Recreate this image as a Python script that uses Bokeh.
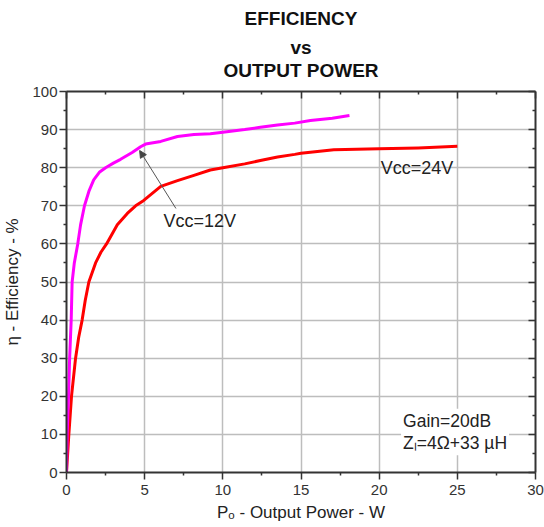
from bokeh.plotting import figure
from bokeh.models import (LinearAxis, Title, Label, Arrow, NormalHead, Range1d,
                          FixedTicker, CustomLabelingPolicy)
from bokeh.embed import file_html
from bokeh.resources import INLINE

# Vcc = 12 V curve
p_out_12 = [0.0, 0.04, 0.13, 0.2, 0.3, 0.36, 0.5, 0.72, 0.9, 1.15, 1.45, 1.74, 2.1, 2.5,
            3.0, 3.46, 4.2, 4.74, 5.06, 6.03, 7.1, 8.15, 9.2, 10.0, 11.4, 12.4, 13.5,
            14.6, 15.6, 17.0, 18.1]
eff_12 = [0.0, 10.0, 20.0, 30.0, 40.0, 50.0, 55.0, 60.0, 65.0, 70.0, 74.0, 76.8, 78.8, 80.0,
          81.2, 82.2, 84.0, 85.5, 86.2, 86.9, 88.2, 88.7, 88.9, 89.3, 90.0, 90.6, 91.2,
          91.7, 92.4, 93.0, 93.7]

# Vcc = 24 V curve
p_out_24 = [0.0, 0.15, 0.32, 0.58, 0.78, 1.0, 1.2, 1.43, 1.86, 2.2, 2.56, 3.25, 3.89, 4.42,
            4.94, 6.03, 7.1, 8.15, 9.2, 10.0, 11.4, 12.4, 13.5, 14.6, 15.0, 17.1, 20.0,
            22.5, 25.0]
eff_24 = [0.0, 10.0, 20.0, 30.0, 35.5, 40.0, 45.2, 50.0, 55.0, 57.8, 60.0, 65.0, 68.0,
          70.0, 71.4, 75.1, 76.6, 78.0, 79.4, 80.0, 81.0, 81.9, 82.8, 83.5, 83.8, 84.7,
          85.0, 85.2, 85.6]

x_ticks = [0, 5, 10, 15, 20, 25, 30]
y_ticks = [0, 10, 20, 30, 40, 50, 60, 70, 80, 90, 100]
x_minor = [2.5, 7.5, 12.5, 17.5, 22.5, 27.5]
y_minor = [5, 15, 25, 35, 45, 55, 65, 75, 85, 95]

FONT = "Liberation Sans"
TXT = "#222222"
AX = "#333333"

p = figure(frame_width=469, frame_height=381, output_backend="svg",
           toolbar_location=None, x_range=Range1d(0, 30), y_range=Range1d(0, 100),
           min_border_left=10, min_border_right=9, min_border_top=10,
           min_border_bottom=10, background_fill_color="white",
           border_fill_color="white", outline_line_color=None)

bottom = p.below[0]
left = p.left[0]

# mirrored top/right axes with inward ticks and no labels
no_labels = CustomLabelingPolicy(code="return new Set()")
top = LinearAxis(ticker=FixedTicker(ticks=x_ticks, minor_ticks=x_minor))
right = LinearAxis(ticker=FixedTicker(ticks=y_ticks, minor_ticks=y_minor))
for ax in (top, right):
    ax.axis_line_color = AX
    ax.axis_line_width = 2
    ax.major_tick_line_color = AX
    ax.minor_tick_line_color = AX
    ax.major_tick_line_width = 1.5
    ax.minor_tick_line_width = 1.5
    ax.major_tick_in = 7
    ax.major_tick_out = 0
    ax.minor_tick_in = 3
    ax.minor_tick_out = 0
    ax.major_label_policy = no_labels
    ax.major_label_standoff = 0
p.add_layout(top, "above")
p.add_layout(right, "right")

# titles (first added is closest to the plot)
for txt, st in [("OUTPUT POWER", 0), ("vs", 0), ("EFFICIENCY", 11)]:
    p.add_layout(Title(text=txt, align="center", text_font=FONT,
                       text_font_size="19px", text_font_style="bold",
                       text_color="#111111", standoff=st), "above")

for ax in (bottom, left):
    ax.axis_line_color = AX
    ax.axis_line_width = 2
    ax.major_tick_line_color = AX
    ax.minor_tick_line_color = AX
    ax.major_tick_line_width = 1.5
    ax.minor_tick_line_width = 1.5
    ax.major_tick_in = 0
    ax.major_tick_out = 7
    ax.minor_tick_in = 0
    ax.minor_tick_out = 3
    ax.major_label_text_font = FONT
    ax.major_label_text_font_size = "15px"
    ax.major_label_text_color = AX
    ax.axis_label_text_font = FONT
    ax.axis_label_text_font_size = "17px"
    ax.axis_label_text_font_style = "normal"
    ax.axis_label_text_color = TXT

bottom.ticker = FixedTicker(ticks=x_ticks, minor_ticks=x_minor)
left.ticker = FixedTicker(ticks=y_ticks, minor_ticks=y_minor)
bottom.axis_label = "Pₒ - Output Power - W"
left.axis_label = "η - Efficiency - %"
bottom.major_label_standoff = 5
left.major_label_standoff = 2
bottom.axis_label_standoff = 5
left.axis_label_standoff = 7

p.xgrid.ticker = FixedTicker(ticks=x_ticks)
p.ygrid.ticker = FixedTicker(ticks=y_ticks)
p.grid.grid_line_color = "#bdbdbd"
p.grid.grid_line_width = 1.5

p.line(p_out_24, eff_24, line_color="#ff0000", line_width=3, line_join="round")
p.line(p_out_12, eff_12, line_color="#ff00ff", line_width=3, line_join="round")

p.add_layout(Arrow(end=NormalHead(size=7, fill_color="#444444", line_color="#444444", line_width=1),
                   x_start=7.0, y_start=69.3, x_end=4.68, y_end=84.5,
                   line_color="#555555", line_width=1))

p.add_layout(Label(x=6.2, y=66.0, text="Vcc=12V", text_font=FONT, text_font_size="18px",
                   text_color=TXT, text_baseline="middle"))
p.add_layout(Label(x=20.1, y=79.8, text="Vcc=24V", text_font=FONT, text_font_size="18px",
                   text_color=TXT, text_baseline="middle"))

p.add_layout(Label(x=21.4, y=13.6, text="Gain=20dB", text_font=FONT, text_font_size="17.5px",
                   text_color=TXT, text_baseline="middle", background_fill_color="white",
                   padding=2))
p.add_layout(Label(x=21.4, y=7.7, text="Zₗ=4Ω+33 µH", text_font=FONT, text_font_size="17.5px",
                   text_color=TXT, text_baseline="middle", background_fill_color="white",
                   padding=2))

open("out.html", "w").write(file_html(p, INLINE))
